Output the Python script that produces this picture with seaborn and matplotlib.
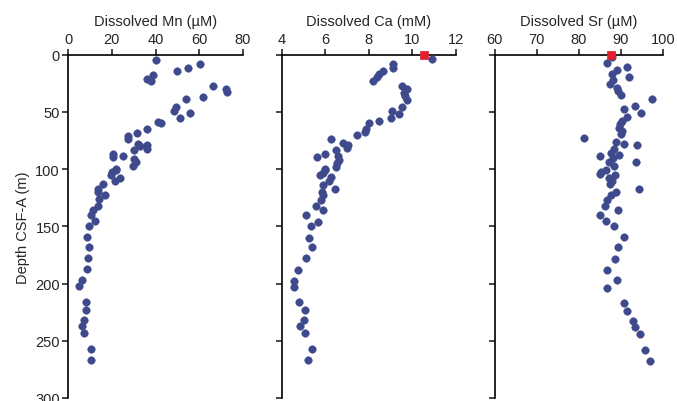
import pandas as pd
import matplotlib
matplotlib.use("Agg")
import matplotlib.pyplot as plt
import seaborn as sns

# Dissolved Mn (uM) vs depth (m)
mn_depth = [4.3, 8, 11.6, 14.5, 17.6, 21, 23, 27, 30, 32.7, 36.7, 39, 46, 49, 51, 55,
            58.7, 60, 65, 68, 71, 74, 78, 79, 80, 82.4, 83, 86.7, 88.7, 89, 91, 94,
            97, 99.7, 101, 102.6, 105.5, 107.8, 110.7, 113.3, 117, 120, 122.3, 126.4,
            132, 136, 140, 145, 149.5, 159, 167.7, 177.8, 187.3, 197, 202, 216, 223,
            232, 237, 243, 257, 267]
mn_value = [40, 60.4, 55, 49.7, 39, 36, 38, 66.5, 72.3, 73, 62, 54, 49.4, 48.6, 55.8, 51.2,
            41, 42.4, 36, 31.7, 27.5, 27.5, 32, 36, 32.9, 36.2, 30, 20.6, 25.2, 20.3, 30, 31,
            29.5, 21.9, 21.9, 19.9, 19.4, 23.7, 21.4, 15.8, 13.5, 13.5, 17, 14.1,
            13.8, 11.5, 10.4, 12.2, 9.6, 8.7, 9.6, 9.2, 8.7, 6.1, 5.0, 8.0, 8.0,
            7.2, 6.1, 7.4, 10.5, 10.5]

# Dissolved Ca (mM) vs depth (m)
ca_depth = [3.8, 8.1, 11.6, 13.9, 17.3, 19.4, 23, 27.5, 29.8, 33.2, 36.1, 39.6, 45.4, 49.1,
            52, 55.5, 58.1, 59.8, 64.5, 67.3, 70.5, 73.7, 77.2, 78.9, 81.8, 83.2, 86.7,
            88.2, 89, 91.6, 94.8, 97.7, 99.7, 101, 103, 105, 107, 110, 113.7, 117, 120.4,
            122.7, 126.8, 132, 135.9, 140.2, 145.8, 150.1, 159.8, 168, 178, 188, 197.7,
            202.6, 216, 223, 232, 237, 243, 257, 267]
ca_value = [10.93, 9.13, 9.1, 8.67, 8.47, 8.37, 8.21, 9.52, 9.78, 9.62, 9.67, 9.75, 9.52, 9.06,
            9.41, 9.01, 8.49, 8.03, 7.88, 7.83, 7.48, 6.25, 6.8, 7.03, 7.02, 6.48, 5.99,
            6.6, 5.64, 6.65, 6.53, 6.48, 5.99, 5.99, 5.92, 5.76, 6.27, 6.19, 5.89, 6.45, 5.84,
            5.92, 5.81, 5.56, 5.92, 5.12, 5.69, 5.35, 5.24, 5.38, 5.1, 4.77, 4.58,
            4.58, 4.8, 5.05, 5.01, 4.82, 5.05, 5.39, 5.19]

# Dissolved Sr (uM) vs depth (m)
sr_depth = [2.3, 7.2, 10.4, 13, 16.8, 19.7, 22, 25.7, 28.9, 32.1, 35.5, 38.4, 45.1, 47.7,
            50.6, 54.3, 57.8, 60.7, 63.9, 66.5, 69.7, 73.1, 76.6, 78.3, 78.9, 82.4, 85.5,
            87.6, 88.2, 89.9, 93.4, 94.2, 97, 100.9, 102.9, 104.4, 105, 107.9, 110.2,
            113.1, 117.5, 119.8, 122.7, 126.8, 132.1, 135.9, 140.2, 145.2, 150.1, 159.2,
            167.9, 178.1, 188, 197.1, 203.5, 217, 224, 233, 238, 244, 258, 268]
sr_value = [87.9, 86.8, 91.5, 89.2, 88, 91.9, 88.2, 87.4, 89.2, 89.4, 90.1, 97.5, 93.4, 90.9,
            94.9, 91.5, 90.4, 89.9, 89.5, 90.3, 90.1, 81.4, 88.8, 90.9, 93.9, 88.3, 87.8,
            89.7, 85.1, 88.2, 87.2, 93.6, 88.5, 86.6, 85.3, 85.2, 88.6, 87.2, 88,
            87.4, 94.4, 88.8, 87.8, 86.8, 86.2, 89.3, 85.1, 86.5, 88.4, 90.9,
            89.3, 88.6, 86.8, 89.1, 86.8, 90.8, 91.6, 93.0, 93.3, 94.7, 95.7, 97.0]

# Red squares (top value)
ca_red = [10.54]
sr_red = [87.7]
red_depth = [0.6]

panels = [
    ("Dissolved Mn (µM)", mn_value, mn_depth, None, (0, 80), [0, 20, 40, 60, 80]),
    ("Dissolved Ca (mM)", ca_value, ca_depth, ca_red, (4, 12), [4, 6, 8, 10, 12]),
    ("Dissolved Sr (µM)", sr_value, sr_depth, sr_red, (60, 100), [60, 70, 80, 90, 100]),
]

sns.set_style("ticks")
plt.rcParams['font.family'] = ['Liberation Sans', 'DejaVu Sans']

fig = plt.figure(figsize=(6.77, 4.02), dpi=100)
lefts = [68.3, 281.7, 494.5]
widths = [174.4, 174.0, 168.2]
top_px, bottom_px = 55.7, 399
blue = "#3F4A8C"

for i, (label, vals, depths, red, xlim, xticks) in enumerate(panels):
    ax = fig.add_axes([lefts[i] / 677, 1 - bottom_px / 402, widths[i] / 677,
                       (bottom_px - top_px) / 402])
    df = pd.DataFrame({"value": vals, "depth": depths})
    sns.scatterplot(data=df, x="value", y="depth", ax=ax, color=blue, s=30,
                    edgecolor=blue, linewidth=0.3, clip_on=False, zorder=3)
    if red is not None:
        rdf = pd.DataFrame({"value": red, "depth": red_depth})
        sns.scatterplot(data=rdf, x="value", y="depth", ax=ax, color="#E0202E",
                        marker="s", s=40, edgecolor="#E0202E", clip_on=False, zorder=4)
    ax.set_xlim(*xlim)
    ax.set_ylim(300, 0)
    ax.set_xticks(xticks)
    ax.set_yticks([0, 50, 100, 150, 200, 250, 300])
    ax.xaxis.tick_top()
    ax.xaxis.set_label_position("top")
    ax.set_xlabel(label, fontsize=10.5, labelpad=5)
    ax.tick_params(axis="both", labelsize=10.5, width=1.2, length=4, direction="out", pad=2)
    for side in ("right", "bottom"):
        ax.spines[side].set_visible(False)
    for side in ("top", "left"):
        ax.spines[side].set_linewidth(1.2)
        ax.spines[side].set_color("black")
    if i == 0:
        ax.set_ylabel("Depth CSF-A (m)", fontsize=10.5, labelpad=4)
    else:
        ax.set_ylabel("")
        ax.set_yticklabels([])

fig.savefig("out.png", dpi=100)
